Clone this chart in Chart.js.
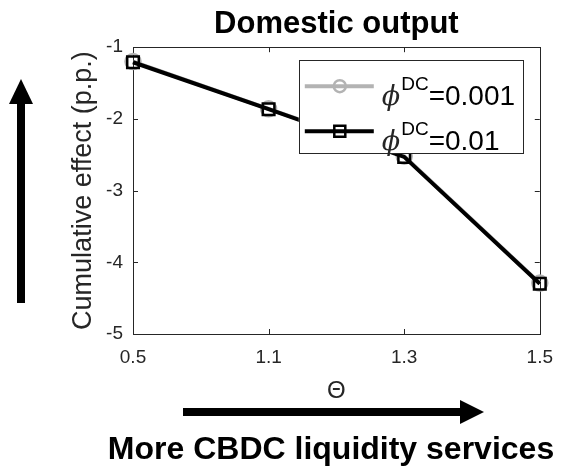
<!DOCTYPE html>
<html>
<head>
<meta charset="utf-8">
<script src="https://cdn.jsdelivr.net/npm/chart.js@4"></script>
<style>
  html, body { margin: 0; padding: 0; background: #fff; }
  #wrap { width: 565px; height: 470px; }
</style>
</head>
<body>
<div id="wrap"><canvas id="outputChart" width="565" height="470"></canvas></div>
<script>
// data
const thetaLabels = ['0.5', '1.1', '1.3', '1.5'];
const effectLowPhi = [-1.20, -1.86, -2.52, -4.29];   // phi^DC = 0.001 (grey, mostly hidden)
const effectHighPhi = [-1.21, -1.865, -2.53, -4.30]; // phi^DC = 0.01 (black)
const phiValues = ['0.001', '0.01'];
const yMin = -5, yMax = -1, yStep = 1;

const FONT = '"Liberation Sans", Arial, sans-serif';
const AXIS_COLOR = '#262626';

// MATLAB style box with inward ticks
const boxPlugin = {
  id: 'boxPlugin',
  beforeDatasetsDraw(chart) {
    const { ctx, chartArea: a, scales: { x, y } } = chart;
    ctx.save();
    ctx.strokeStyle = AXIS_COLOR;
    ctx.lineWidth = 1;
    ctx.strokeRect(Math.round(a.left) + 0.5, Math.round(a.top) + 0.5,
      Math.round(a.right - a.left), Math.round(a.bottom - a.top));
    ctx.beginPath();
    x.ticks.forEach((t, i) => {
      const px = Math.round(x.getPixelForTick(i)) + 0.5;
      ctx.moveTo(px, a.bottom); ctx.lineTo(px, a.bottom - 5);
      ctx.moveTo(px, a.top); ctx.lineTo(px, a.top + 5);
    });
    y.ticks.forEach((t, i) => {
      const py = Math.round(y.getPixelForTick(i)) + 0.5;
      ctx.moveTo(a.left, py); ctx.lineTo(a.left + 5, py);
      ctx.moveTo(a.right, py); ctx.lineTo(a.right - 5, py);
    });
    ctx.stroke();
    ctx.restore();
  }
};

// legend with superscript, drawn over the lines like in the figure
const legendPlugin = {
  id: 'phiLegend',
  afterDatasetsDraw(chart) {
    const { ctx, chartArea: a } = chart;
    const bx = a.right - 241, by = a.top + 13, bw = 224, bh = 93;
    ctx.save();
    ctx.fillStyle = '#fff';
    ctx.fillRect(bx, by, bw, bh);
    ctx.strokeStyle = AXIS_COLOR;
    ctx.lineWidth = 1;
    ctx.strokeRect(Math.round(bx) + 0.5, Math.round(by) + 0.5, bw, bh);

    chart.data.datasets.forEach((ds, i) => {
      const ly = by + 26 + i * 45;
      ctx.strokeStyle = ds.borderColor;
      ctx.lineWidth = 4;
      ctx.beginPath();
      ctx.moveTo(bx + 6, ly); ctx.lineTo(bx + 75, ly);
      ctx.stroke();
      ctx.lineWidth = 2.5;
      ctx.strokeStyle = ds.pointBorderColor;
      ctx.beginPath();
      if (ds.pointStyle === 'circle') {
        ctx.arc(bx + 41, ly, 6, 0, Math.PI * 2);
      } else {
        ctx.rect(bx + 35.5, ly - 5.5, 11, 11);
      }
      ctx.stroke();

      let tx = bx + 83;
      ctx.fillStyle = AXIS_COLOR;
      ctx.textBaseline = 'alphabetic';
      ctx.textAlign = 'left';
      ctx.font = 'italic 27px "DejaVu Serif", serif';
      ctx.fillText('\u03D5', tx, ly + 19);
      tx += ctx.measureText('\u03D5').width + 1;
      ctx.fillStyle = '#000';
      ctx.font = '19px ' + FONT;
      ctx.fillText('DC', tx, ly + 4);
      tx += ctx.measureText('DC').width;
      ctx.font = '28px ' + FONT;
      ctx.fillText('=' + phiValues[i], tx, ly + 19);
    });
    ctx.restore();
  }
};

// arrows and the bottom caption
const arrowPlugin = {
  id: 'arrows',
  afterDraw(chart) {
    const ctx = chart.ctx;
    ctx.save();
    ctx.fillStyle = '#000';
    // vertical arrow on the left
    ctx.fillRect(17, 103, 8, 200);
    ctx.beginPath();
    ctx.moveTo(9, 104); ctx.lineTo(21, 79); ctx.lineTo(33, 104);
    ctx.closePath(); ctx.fill();
    // horizontal arrow under the x axis
    ctx.fillRect(183, 408, 278, 8);
    ctx.beginPath();
    ctx.moveTo(460, 400); ctx.lineTo(484, 412); ctx.lineTo(460, 424);
    ctx.closePath(); ctx.fill();

    ctx.font = 'bold 32px ' + FONT;
    ctx.textAlign = 'center';
    ctx.textBaseline = 'alphabetic';
    ctx.fillText('More CBDC liquidity services', 331, 459);
    ctx.restore();
  }
};

const ctx = document.getElementById('outputChart').getContext('2d');
const outputChart = new Chart(ctx, {
  type: 'line',
  data: {
    labels: thetaLabels,
    datasets: [
      {
        label: 'phiDC=0.001',
        data: effectLowPhi,
        borderColor: '#b3b3b3',
        borderWidth: 4,
        pointStyle: 'circle',
        pointRadius: 7.5,
        pointBorderWidth: 2.5,
        pointBorderColor: '#b3b3b3',
        pointBackgroundColor: 'rgba(0,0,0,0)',
        tension: 0,
        clip: false,
        order: 2
      },
      {
        label: 'phiDC=0.01',
        data: effectHighPhi,
        borderColor: '#000',
        borderWidth: 4,
        pointStyle: 'rect',
        pointRadius: 8.2,
        pointBorderWidth: 2.5,
        pointBorderColor: '#000',
        pointBackgroundColor: 'rgba(0,0,0,0)',
        tension: 0,
        clip: false,
        order: 1
      }
    ]
  },
  options: {
    responsive: false,
    animation: false,
    events: [],
    layout: { padding: { left: 45, right: 17, top: 0, bottom: 64 } },
    plugins: {
      legend: { display: false },
      tooltip: { enabled: false },
      title: {
        display: true,
        text: 'Domestic output',
        fullSize: false,
        color: '#000',
        font: { family: FONT, size: 31, weight: 'bold' },
        lineHeight: 1.1,
        padding: { top: 6, bottom: 4 }
      }
    },
    scales: {
      x: {
        type: 'category',
        offset: false,
        grid: { display: false, drawTicks: false },
        border: { display: false },
        ticks: {
          color: AXIS_COLOR,
          font: { family: FONT, size: 19 },
          padding: 12,
          maxRotation: 0,
          autoSkip: false
        },
        title: {
          display: true,
          text: '\u0398',
          color: AXIS_COLOR,
          font: { family: FONT, size: 24 },
          padding: { top: 0, bottom: 0 }
        },
        afterFit: (scale) => { scale.height = 72; }
      },
      y: {
        min: yMin,
        max: yMax,
        grid: { display: false, drawTicks: false },
        border: { display: false },
        ticks: {
          stepSize: yStep,
          color: AXIS_COLOR,
          font: { family: FONT, size: 19 },
          padding: 10
        },
        title: {
          display: true,
          text: 'Cumulative effect (p.p.)',
          color: AXIS_COLOR,
          font: { family: FONT, size: 27 },
          padding: { top: 22, bottom: 0 }
        },
        afterFit: (scale) => { scale.width = 88; }
      }
    }
  },
  plugins: [boxPlugin, legendPlugin, arrowPlugin]
});
</script>
</body>
</html>
